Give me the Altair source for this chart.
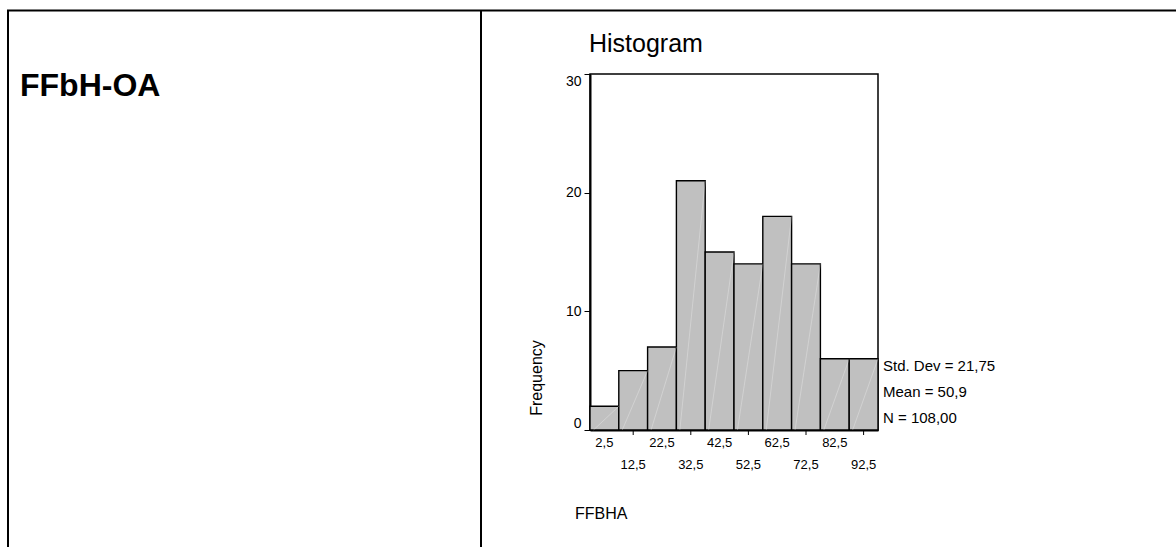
import altair as alt
import pandas as pd

# FFBHA histogram: bin midpoints and frequencies (bin width 10)
midpoints = [2.5, 12.5, 22.5, 32.5, 42.5, 52.5, 62.5, 72.5, 82.5, 92.5]
tick_labels = ["2,5", "12,5", "22,5", "32,5", "42,5", "52,5", "62,5", "72,5", "82,5", "92,5"]
counts = [2, 5, 7, 21, 15, 14, 18, 14, 6, 6]
stats_lines = ["Std. Dev = 21,75", "Mean = 50,9", "N = 108,00"]

BIN_W = 10
W, H = 288, 356
LEFT, TOP = 590, 74
FONT = "Liberation Sans"

bars = pd.DataFrame({
    "mid": midpoints,
    "start": [m - BIN_W / 2 for m in midpoints],
    "end": [m + BIN_W / 2 for m in midpoints],
    "count": counts,
    "base": [0] * len(counts),
    "label": tick_labels,
    "row": [i % 2 for i in range(len(midpoints))],
})
bars["hatch_start"] = bars["start"] + 1.2

xs = alt.Scale(domain=[midpoints[0] - BIN_W / 2, midpoints[-1] + BIN_W / 2], nice=False, zero=False)
ys = alt.Scale(domain=[0, 30], nice=False)

base = alt.Chart(bars)

hist = base.mark_bar(fill="#c0c0c0", stroke="black", strokeWidth=1.4).encode(
    x=alt.X("start:Q", scale=xs, axis=alt.Axis(
        values=midpoints, labels=False, ticks=False, domain=True,
        domainColor="black", domainWidth=2, grid=False, title=None)),
    x2="end:Q",
    y=alt.Y("count:Q", scale=ys, axis=alt.Axis(
        values=[0, 10, 20, 30], grid=False, title=None, domainColor="black",
        domainWidth=2, tickColor="black", tickSize=6, tickWidth=1,
        labelFont=FONT, labelFontSize=14, labelColor="black", labelPadding=3,
        labelFlush=True)),
    y2="base:Q",
)

# faint diagonal shading line inside each bar
hatch = base.mark_rule(color="white", strokeWidth=0.8, opacity=0.35).encode(
    x=alt.X("hatch_start:Q", scale=xs),
    x2="end:Q",
    y=alt.Y("base:Q", scale=ys),
    y2="count:Q",
)

# x tick labels in two staggered rows
xlabels = base.mark_text(font=FONT, fontSize=13, color="black", baseline="middle").encode(
    x=alt.X("mid:Q", scale=xs),
    y=alt.Y("ypix:Q", scale=None),
    text="label:N",
).transform_calculate(ypix=f"{H + 13} + datum.row * 22")

xticks = base.transform_filter("datum.row == 1").mark_rule(color="black", strokeWidth=1).encode(
    x=alt.X("mid:Q", scale=xs),
    y=alt.value(H),
    y2=alt.value(H + 5),
)

stats = alt.Chart(pd.DataFrame({"t": stats_lines, "i": [0, 1, 2]})).mark_text(
    font=FONT, fontSize=15, color="black", align="left", baseline="middle"
).encode(
    x=alt.value(W + 5),
    y=alt.Y("yp:Q", scale=None),
    text="t:N",
).transform_calculate(yp=f"{H - 64} + datum.i * 26")


def label(text, x, y, size, weight="normal", angle=0, align="left"):
    return alt.Chart(pd.DataFrame({"t": [text]})).mark_text(
        font=FONT, fontSize=size, fontWeight=weight, color="black",
        align=align, baseline="middle", angle=angle,
    ).encode(x=alt.value(x), y=alt.value(y), text="t:N")


title = label("Histogram", -1, -30, 25)
ylab = label("Frequency", -53, 304, 16, angle=270, align="center")
xlab = label("FFBHA", -15, 440, 16)
heading = label("FFbH-OA", -570, 12, 32, weight="bold")

# table cell borders
rule_df = pd.DataFrame({"k": [0]})
border_left = alt.Chart(rule_df).mark_rule(color="black", strokeWidth=2).encode(
    x=alt.value(8 - LEFT), y=alt.value(10.5 - TOP), y2=alt.value(547 - TOP))
border_mid = alt.Chart(rule_df).mark_rule(color="black", strokeWidth=2).encode(
    x=alt.value(481 - LEFT), y=alt.value(10.5 - TOP), y2=alt.value(547 - TOP))
border_top = alt.Chart(rule_df).mark_rule(color="black", strokeWidth=2).encode(
    x=alt.value(7 - LEFT), x2=alt.value(1176 - LEFT), y=alt.value(10.5 - TOP))

chart = alt.layer(
    hist, hatch, xticks, xlabels, stats, title, ylab, xlab, heading,
    border_left, border_mid, border_top,
).properties(
    width=W, height=H,
    autosize=alt.AutoSizeParams(type="none"),
    padding={"left": LEFT, "top": TOP, "right": 1176 - LEFT - W, "bottom": 547 - TOP - H},
    background="white",
).configure_view(stroke="black", strokeWidth=1.5)

chart.save("out.html", embed_options={"renderer": "svg", "actions": False})
